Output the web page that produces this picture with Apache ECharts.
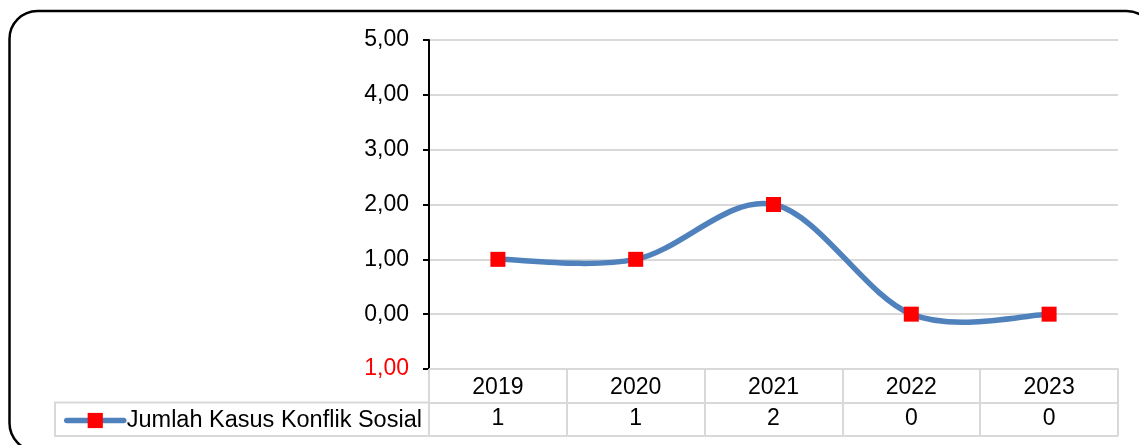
<!DOCTYPE html>
<html>
<head>
<meta charset="utf-8">
<script src="https://cdn.jsdelivr.net/npm/echarts@6/dist/echarts.min.js"></script>
<style>
  html, body { margin: 0; padding: 0; background: #fff; }
  #chart { width: 1139px; height: 445px; }
</style>
</head>
<body>
<div id="chart"></div>
<script>
// Yearly count of social conflict cases
const years = ['2019', '2020', '2021', '2022', '2023'];
const cases = [1, 1, 2, 0, 0];
const seriesName = 'Jumlah Kasus Konflik Sosial';
const yMin = -1, yMax = 5, yStep = 1;

const FONT = '"Liberation Sans", Arial, sans-serif';
const FONT_SIZE = 23;
const GRID_LEFT = 429, GRID_RIGHT = 21, GRID_TOP = 40, GRID_BOTTOM = 76;
const ROW_H = 33.5;
const W = 1139, H = 445;
const tableLeft = 55;
const gridGrey = '#d9d9d9';
const lineBlue = '#4f81bd';
const markerRed = '#ff0000';

const axisY = H - GRID_BOTTOM;           // bottom of plot / top of data table
const row2Top = axisY + ROW_H;
const row2Bottom = axisY + 2 * ROW_H;
const plotRight = W - GRID_RIGHT;

const fmt = v => Math.abs(v).toFixed(2).replace('.', ',');

// Cardinal (Catmull-Rom style) bezier through the projected points, the way
// spreadsheet "smoothed lines" are drawn, overshoot included.
function smoothPath(pts) {
  let d = 'M' + pts[0][0] + ' ' + pts[0][1];
  for (let i = 0; i < pts.length - 1; i++) {
    const p0 = pts[Math.max(i - 1, 0)];
    const p1 = pts[i];
    const p2 = pts[i + 1];
    const p3 = pts[Math.min(i + 2, pts.length - 1)];
    const c1 = [p1[0] + (p2[0] - p0[0]) / 6, p1[1] + (p2[1] - p0[1]) / 6];
    const c2 = [p2[0] - (p3[0] - p1[0]) / 6, p2[1] - (p3[1] - p1[1]) / 6];
    d += ' C' + c1[0] + ' ' + c1[1] + ' ' + c2[0] + ' ' + c2[1] + ' ' + p2[0] + ' ' + p2[1];
  }
  return d;
}

const chart = echarts.init(document.getElementById('chart'), null, { renderer: 'canvas' });
chart.setOption({
  animation: false,
  backgroundColor: '#ffffff',
  textStyle: { fontFamily: FONT },
  grid: { left: GRID_LEFT, right: GRID_RIGHT, top: GRID_TOP, bottom: GRID_BOTTOM, containLabel: false },
  legend: {
    left: tableLeft + 4,
    top: row2Top + 1,
    itemWidth: 57,
    itemHeight: 19,
    itemGap: 0,
    textStyle: { fontSize: 23.5, color: '#000', fontFamily: FONT, padding: [0, 0, 0, -2] },
    data: [{
      name: seriesName,
      itemStyle: { color: markerRed, opacity: 1 },
      lineStyle: { color: lineBlue, width: 5.5, opacity: 1, cap: 'round' }
    }]
  },
  xAxis: [
    {
      type: 'category',
      data: years,
      position: 'bottom',
      boundaryGap: true,
      axisLine: { onZero: false, lineStyle: { color: gridGrey, width: 2 } },
      axisTick: { show: true, length: ROW_H * 2, lineStyle: { color: gridGrey, width: 2 } },
      axisLabel: { fontSize: FONT_SIZE, color: '#000', margin: 7, fontFamily: FONT },
      splitLine: { show: false }
    },
    {
      type: 'category',
      data: years,
      position: 'bottom',
      offset: ROW_H,
      boundaryGap: true,
      axisLine: { onZero: false, lineStyle: { color: gridGrey, width: 2 } },
      axisTick: { show: false },
      axisLabel: {
        fontSize: FONT_SIZE, color: '#000', margin: 5, fontFamily: FONT,
        formatter: (val, idx) => String(cases[idx])
      },
      splitLine: { show: false }
    }
  ],
  yAxis: {
    type: 'value',
    min: yMin,
    max: yMax,
    interval: yStep,
    axisLine: { show: true, lineStyle: { color: '#000', width: 2 } },
    axisTick: { show: true, length: 6, lineStyle: { color: '#000', width: 2 } },
    axisLabel: {
      fontSize: FONT_SIZE,
      margin: 20,
      fontFamily: FONT,
      formatter: v => fmt(v),
      color: v => (v < 0 ? markerRed : '#000000')
    },
    splitLine: { show: true, lineStyle: { color: gridGrey, width: 2 } }
  },
  series: [
    {
      // square markers at each yearly value (the curve itself is drawn below)
      name: seriesName,
      type: 'line',
      xAxisIndex: 0,
      data: cases,
      symbol: 'rect',
      symbolSize: 15,
      showAllSymbol: true,
      lineStyle: { color: lineBlue, width: 5, opacity: 0 },
      itemStyle: { color: markerRed, borderWidth: 0 },
      z: 5
    },
    {
      // smoothed connecting curve
      name: 'curve',
      type: 'custom',
      xAxisIndex: 0,
      data: cases.map((v, i) => [i, v]),
      renderItem: (params, api) => {
        if (params.dataIndex !== 0) return null;
        const pts = cases.map((v, i) => api.coord([i, v]));
        return {
          type: 'path',
          shape: { pathData: smoothPath(pts) },
          style: { fill: 'none', stroke: lineBlue, lineWidth: 5.5, lineCap: 'round' },
          z2: 1
        };
      },
      z: 4,
      silent: true
    }
  ],
  graphic: [
    // outer rounded frame
    {
      type: 'rect',
      shape: { x: 9.5, y: 11, width: 1145, height: 440, r: 28 },
      style: { fill: 'none', stroke: '#000', lineWidth: 2.5 },
      silent: true, z: 0
    },
    // legend cell and bottom border of the data table
    {
      type: 'polyline',
      shape: { points: [[GRID_LEFT, row2Top], [tableLeft, row2Top], [tableLeft, row2Bottom], [plotRight, row2Bottom]] },
      style: { fill: 'none', stroke: gridGrey, lineWidth: 2 },
      silent: true, z: 1
    }
  ]
});
</script>
</body>
</html>
